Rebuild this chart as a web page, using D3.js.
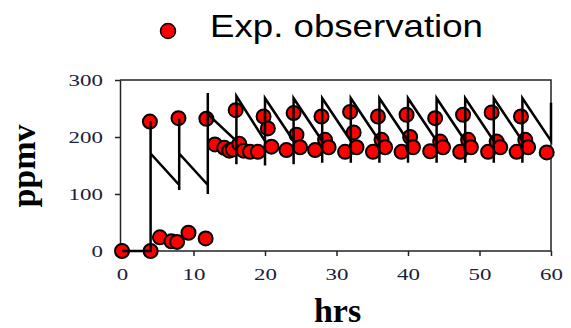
<!DOCTYPE html>
<html>
<head>
<meta charset="utf-8">
<script src="https://cdn.jsdelivr.net/npm/d3@7"></script>
<style>
  body { margin: 0; background: #fff; }
  svg { display: block; }
</style>
</head>
<body>
<div id="chart"></div>
<script>
// observed concentrations (hrs, ppmv)
const obsHrs = [0, 4, 3.9, 5.3, 6.9, 7.7, 7.9, 9.3, 11.7, 11.8,
  13.0, 14.3, 15.0, 15.5, 15.9, 16.4, 17.0, 17.9, 19.0, 19.8, 20.4, 20.9,
  23.0, 24.0, 24.4, 24.9,
  27.0, 27.9, 28.4, 28.9,
  31.2, 31.9, 32.4, 32.8,
  35.1, 35.8, 36.3, 36.8,
  39.1, 39.8, 40.3, 40.7,
  43.1, 43.8, 44.5, 44.9,
  47.3, 47.7, 48.4, 48.8,
  51.2, 51.7, 52.4, 52.9,
  55.2, 55.8, 56.4, 56.8,
  59.4];
const obsPpmv = [0, 0, 227, 24, 17, 16, 233, 32, 22, 232,
  187, 181, 176, 178, 247, 188, 176, 174, 174, 236, 215, 183,
  177, 242, 204, 182,
  177, 236, 195, 182,
  174, 244, 208, 182,
  174, 236, 195, 182,
  174, 239, 200, 182,
  175, 233, 192, 182,
  174, 239, 195, 182,
  174, 243, 192, 182,
  174, 236, 195, 182,
  173];

// model curve (hrs, ppmv)
const modelHrs = [0, 4, 4, 4, 8, 8, 8, 8, 12, 12, 12, 12,
  16, 16, 16, 20, 20, 20, 24, 24, 24, 28, 28, 28, 32, 32, 32,
  36, 36, 36, 40, 40, 40, 44, 44, 44, 48, 48, 48, 52, 52, 52,
  56, 56, 56, 60, 60];
const modelPpmv = [0, 0, 228, 171, 116, 107, 232, 171, 116, 100, 277, 240,
  193, 152, 272, 193, 150, 268, 193, 152, 268, 193, 155, 268, 193, 155, 268,
  193, 155, 268, 193, 155, 268, 193, 155, 268, 193, 155, 268, 193, 155, 268,
  193, 155, 268, 193, 260];

const xTicks = [0, 10, 20, 30, 40, 50, 60];
const yTicks = [0, 100, 200, 300];

const W = 571, H = 328;
const svg = d3.select("#chart").append("svg")
  .attr("width", W).attr("height", H);

const x = d3.scaleLinear().domain([0, 60]).range([122, 551]);
const y = d3.scaleLinear().domain([0, 300]).range([251, 80]);

// frame top / right
svg.append("path")
  .attr("d", `M120,${y(300)}H${x(60)}V${y(0)}`)
  .attr("fill", "none").attr("stroke", "#222").attr("stroke-width", 1.5);

const stretch = 1.35;

const xAxis = svg.append("g")
  .attr("transform", `translate(0,${y(0)})`)
  .call(d3.axisBottom(x).tickValues(xTicks).tickSize(5).tickPadding(11.5).tickSizeOuter(0));
xAxis.select(".domain").attr("d", `M120,0H${x(60)}`);

const yAxis = svg.append("g")
  .attr("transform", "translate(120,0)")
  .call(d3.axisLeft(y).tickValues(yTicks).tickSize(5).tickPadding(12).tickSizeOuter(0));

[xAxis, yAxis].forEach(g => {
  g.select(".domain").attr("stroke", "#222").attr("stroke-width", 1.5);
  g.selectAll(".tick line").attr("stroke", "#222").attr("stroke-width", 1.5);
  g.selectAll(".tick text")
    .attr("font-family", "'Liberation Serif', 'Times New Roman', serif")
    .attr("font-size", 17)
    .attr("fill", "#1e1e3a");
});
xAxis.selectAll(".tick text").attr("transform", `scale(${stretch},1)`);
yAxis.selectAll(".tick text")
  .attr("x", -17 / stretch)
  .attr("transform", `scale(${stretch},1)`);

// markers
const pts = obsHrs.map((h, i) => ({ h, v: obsPpmv[i] }));
svg.append("g").selectAll("circle")
  .data(pts)
  .enter()
  .append("circle")
    .attr("cx", d => x(d.h))
    .attr("cy", d => y(d.v))
    .attr("r", 7)
    .attr("fill", "#ff0000")
    .attr("stroke", "#000")
    .attr("stroke-width", 2);

// model line on top
const line = d3.line().x(d => x(d.h)).y(d => y(d.v));
svg.append("path")
  .datum(modelHrs.map((h, i) => ({ h, v: modelPpmv[i] })))
  .attr("d", line)
  .attr("fill", "none")
  .attr("stroke", "#000")
  .attr("stroke-width", 2.5)
  .attr("stroke-linejoin", "miter");

// axis titles
svg.append("text")
  .attr("x", 337.5).attr("y", 322)
  .attr("text-anchor", "middle")
  .attr("font-family", "'Liberation Serif', 'Times New Roman', serif")
  .attr("font-weight", "bold")
  .attr("font-size", 34)
  .text("hrs");

svg.append("text")
  .attr("transform", "translate(35,166) rotate(-90)")
  .attr("text-anchor", "middle")
  .attr("font-family", "'Liberation Serif', 'Times New Roman', serif")
  .attr("font-weight", "bold")
  .attr("font-size", 34)
  .text("ppmv");

// legend
svg.append("circle")
  .attr("cx", 168).attr("cy", 31).attr("r", 7.5)
  .attr("fill", "#ff0000").attr("stroke", "#000").attr("stroke-width", 1.5);
svg.append("text")
  .attr("x", 210).attr("y", 37)
  .attr("font-family", "'Liberation Sans', Arial, sans-serif")
  .attr("font-size", 32)
  .attr("textLength", 273)
  .attr("lengthAdjust", "spacingAndGlyphs")
  .text("Exp. observation");
</script>
</body>
</html>
